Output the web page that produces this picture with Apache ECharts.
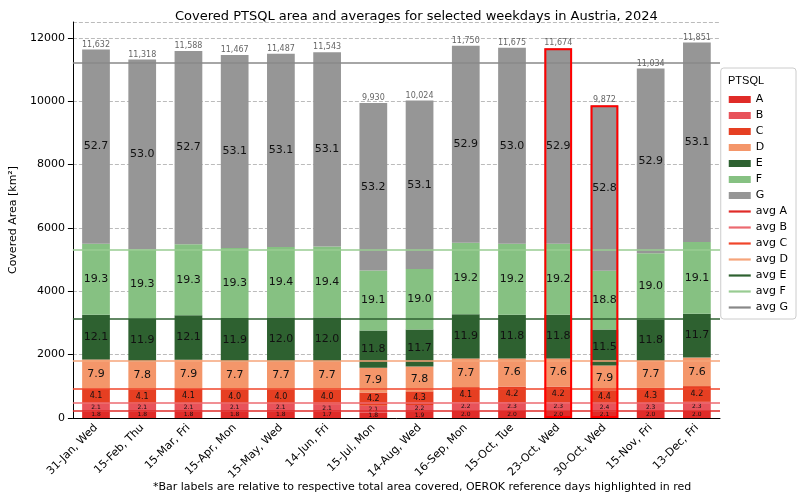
<!DOCTYPE html>
<html><head><meta charset="utf-8">
<script src="https://cdn.jsdelivr.net/npm/echarts@6/dist/echarts.min.js"></script>
<style>body{margin:0;background:#fff}#chart{width:800px;height:499px}</style>
</head><body><div id="chart"></div>
<script>
// days and totals (km²)
const days = ['31-Jan, Wed','15-Feb, Thu','15-Mar, Fri','15-Apr, Mon','15-May, Wed','14-Jun, Fri','15-Jul, Mon','14-Aug, Wed','16-Sep, Mon','15-Oct, Tue','23-Oct, Wed','30-Oct, Wed','15-Nov, Fri','13-Dec, Fri'];
const totals = [11632,11318,11588,11467,11487,11543,9930,10024,11750,11675,11674,9872,11034,11851];
const highlighted = [10, 11];
// share of total per class, %
const pctA = [1.8,1.8,1.8,1.8,1.8,1.7,1.8,1.9,2.0,2.0,2.0,2.1,2.0,2.0];
const pctB = [2.1,2.1,2.1,2.1,2.1,2.1,2.1,2.2,2.2,2.3,2.3,2.4,2.3,2.3];
const pctC = [4.1,4.1,4.1,4.0,4.0,4.0,4.2,4.3,4.1,4.2,4.2,4.4,4.3,4.2];
const pctD = [7.9,7.8,7.9,7.7,7.7,7.7,7.9,7.8,7.7,7.6,7.6,7.9,7.7,7.6];
const pctE = [12.1,11.9,12.1,11.9,12.0,12.0,11.8,11.7,11.9,11.8,11.8,11.5,11.8,11.7];
const pctF = [19.3,19.3,19.3,19.3,19.4,19.4,19.1,19.0,19.2,19.2,19.2,18.8,19.0,19.1];
const pctG = [52.7,53.0,52.7,53.1,53.1,53.1,53.2,53.1,52.9,53.0,52.9,52.8,52.9,53.1];
// cumulative averages (avg lines)
const avgLevels = [230, 470, 930, 1800, 3130, 5300, 11200];

const classes = ['A','B','C','D','E','F','G'];
const pcts = [pctA,pctB,pctC,pctD,pctE,pctF,pctG];
const colors = ['#e02b28','#e8525a','#e63f22','#f4966a','#2e6130','#86c182','#969696'];
const lineColors = ['#e02b28','#ec6a70','#f0452a','#f6a47a','#2e6130','#98cc92','#888888'];
const fontSizes = [6,6,8,11,11,11,11];

const series = [];
classes.forEach((c, i) => {
  series.push({
    name: c, type: 'bar', stack: 'all', barWidth: '60%',
    itemStyle: { color: colors[i] },
    data: totals.map((t, j) => t * pcts[i][j] / 100),
    label: {
      show: true, position: 'inside', fontSize: fontSizes[i], color: '#111',
      formatter: p => pcts[i][p.dataIndex].toFixed(1)
    }
  });
});
// total labels on top
series.push({
  name: 'total', type: 'bar', barWidth: '60%', barGap: '-100%', z: 5,
  itemStyle: { color: 'transparent' }, silent: true,
  data: totals,
  label: { show: true, position: 'top', fontSize: 8, color: '#666', distance: 1,
    formatter: p => p.value.toLocaleString('en-US') }
});
// highlighted reference days
series.push({
  name: 'hl', type: 'bar', barWidth: '60%', barGap: '-100%', z: 6, silent: true,
  itemStyle: { color: 'transparent', borderColor: '#ff0000', borderWidth: 2 },
  data: totals.map((t, j) => highlighted.includes(j) ? t : '-')
});
classes.forEach((c, i) => {
  series.push({
    name: 'avg ' + c, type: 'line', data: [], color: lineColors[i],
    lineStyle: { color: lineColors[i], width: 1.5 },
    markLine: { silent: true, symbol: 'none', label: { show: false },
      lineStyle: { color: lineColors[i], type: 'solid', width: 1.5 },
      data: [{ yAxis: avgLevels[i] }] }
  });
});

const chart = echarts.init(document.getElementById('chart'));
chart.setOption({
  animation: false,
  textStyle: { fontFamily: 'DejaVu Sans' },
  title: [
    { text: 'Covered PTSQL area and averages for selected weekdays in Austria, 2024',
      left: 170, top: 5, textStyle: { fontSize: 13, fontWeight: 'normal', color: '#000' } },
    { text: '*Bar labels are relative to respective total area covered, OEROK reference days highlighted in red',
      left: 148, top: 477, textStyle: { fontSize: 11, fontWeight: 'normal', color: '#000' } }
  ],
  grid: { left: 60, right: 80, top: 22, bottom: 81 },
  legend: {
    right: 4, top: 68, orient: 'vertical', itemWidth: 22, itemHeight: 7, itemGap: 5,
    padding: [26, 8, 6, 8], borderColor: '#ccc', borderWidth: 1, borderRadius: 3,
    textStyle: { fontSize: 11, color: '#000' },
    data: classes.map(c => ({ name: c, icon: 'rect' })).concat(classes.map(c => ({ name: 'avg ' + c, icon: 'path://M0,0H10V1H0Z' })))
  },
  graphic: [
    { type: 'text', left: 728, top: 75, style: { text: 'PTSQL', fontSize: 11, fill: '#000' } }
  ],
  xAxis: {
    type: 'category', data: days,
    axisLine: { lineStyle: { color: '#000' } }, axisTick: { lineStyle: { color: '#000' }, alignWithLabel: true },
    axisLabel: { rotate: 45, fontSize: 11, color: '#000', margin: 8 }
  },
  yAxis: {
    type: 'value', min: 0, max: 12500, interval: 2000, name: 'Covered Area [km²]',
    nameLocation: 'middle', nameGap: 44, nameTextStyle: { fontSize: 11, color: '#000' },
    axisLine: { show: true, lineStyle: { color: '#000' } }, axisTick: { show: true },
    axisLabel: { fontSize: 11, color: '#000', showMaxLabel: false, formatter: v => String(v) },
    splitLine: { lineStyle: { type: 'dashed', color: '#bbb' } }
  },
  series: series
});
</script></body></html>
